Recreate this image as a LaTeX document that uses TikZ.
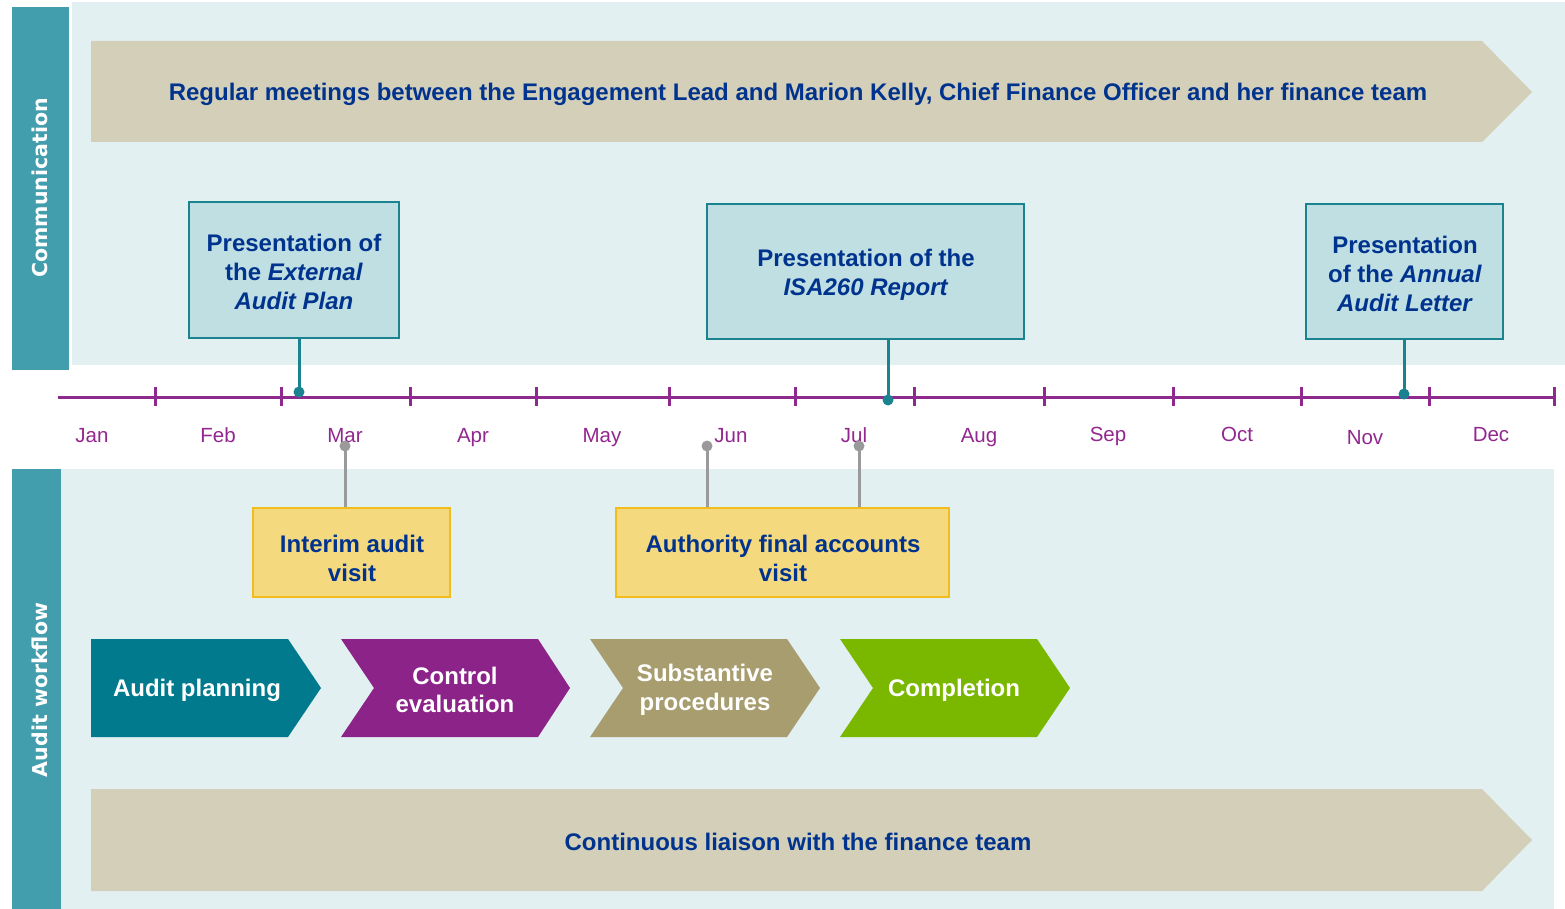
\documentclass[tikz,border=0pt]{standalone}
\usepackage{fontspec}
\setmainfont{Liberation Sans}
\newfontfamily\sidefont{DejaVu Sans}
\definecolor{panelbg}{HTML}{E2F0F2}
\definecolor{sidebar}{HTML}{429DAD}
\definecolor{tanbar}{HTML}{D4CFB8}
\definecolor{commfill}{HTML}{BFDFE3}
\definecolor{commline}{HTML}{1B8290}
\definecolor{axiscol}{HTML}{8E2A8E}
\definecolor{monthcol}{HTML}{92278F}
\definecolor{yelfill}{HTML}{F5D97E}
\definecolor{yelline}{HTML}{F2BC1A}
\definecolor{greyline}{HTML}{9A9A9A}
\definecolor{darkblue}{HTML}{00338D}
\definecolor{chteal}{HTML}{007A8C}
\definecolor{chpurple}{HTML}{8B2388}
\definecolor{chkhaki}{HTML}{A89D6E}
\definecolor{chgreen}{HTML}{7AB800}
\tikzset{
  sidelabel/.style={rotate=90, text=white, font=\sidefont\bfseries\fontsize{20.5}{25}\selectfont, inner sep=0},
  bluetext/.style={text=darkblue, font=\bfseries\fontsize{24}{28.8}\selectfont, align=center, inner sep=0},
  commbox/.style={draw=commline, line width=1.4pt, fill=commfill, inner sep=0},
  yelbox/.style={draw=yelline, line width=1.4pt, fill=yelfill, inner sep=0},
  boxtext/.style={text=darkblue, font=\bfseries\fontsize{24}{29}\selectfont, align=center, inner sep=0},
  chevtext/.style={text=white, font=\bfseries\fontsize{24}{28.5}\selectfont, align=center, inner sep=0},
  month/.style={text=monthcol, font=\fontsize{20.5}{24}\selectfont, inner sep=0, anchor=base},
  axisline/.style={draw=axiscol, line width=3pt},
  commconn/.style={draw=commline, line width=3pt},
  greyconn/.style={draw=greyline, line width=3pt},
}
\begin{document}
\begin{tikzpicture}[x=1pt,y=-1pt]
\useasboundingbox (0,0) rectangle (1565,909);
% panels
\fill[panelbg] (72,2) rectangle (1565,365);
\fill[panelbg] (61,469) rectangle (1554,909);
\fill[sidebar] (12,7) rectangle (69,370);
\fill[sidebar] (12,469) rectangle (61,909);
\node[sidelabel] (comm) at (40,188) {Communication};
\node[sidelabel] (aw) at (40,690) {Audit workflow};
% top and bottom long arrows
\fill[tanbar] (91,41) -- (1482,41) -- (1532,92) -- (1482,142) -- (91,142) -- cycle;
\node[bluetext] (meet) at (798,94) {Regular meetings between the Engagement Lead and Marion Kelly, Chief Finance Officer and her finance team};
\fill[tanbar] (91,789) -- (1482,789) -- (1532,840) -- (1482,891) -- (91,891) -- cycle;
\node[bluetext] (liaison) at (798,842) {Continuous liaison with the finance team};
% axis
\draw[axisline] (58,397) -- (1554,397);
\foreach \x in {155,281,410,536,669,795,914,1044,1173,1301,1429,1554}
  \draw[axisline] (\x,387) -- (\x,406);
\foreach \x/\m/\y in {92/Jan/442,218/Feb/442,345/Mar/442,473/Apr/442,602/May/442,731/Jun/442,854/Jul/442,979/Aug/442,1108/Sep/441,1237/Oct/441,1365/Nov/444,1491/Dec/441}
  \node[month] (m\m) at (\x,\y) {\m};
% communication boxes
\node[commbox, minimum width=210, minimum height=136] (p1) at (294,270) {};
\node[boxtext] (p1text) at (294,272) {Presentation of\\the \textit{External}\\\textit{Audit Plan}};
\node[commbox, minimum width=317, minimum height=135] (p2) at (865.5,271.5) {};
\node[boxtext] (p2text) at (866,275) {Presentation of the\\\textit{ISA260 Report}};
\node[commbox, minimum width=197, minimum height=135] (p3) at (1404.5,271.5) {};
\node[boxtext] (p3text) at (1405,273.5) {Presentation\\of the \textit{Annual}\\\textit{Audit Letter}};
\coordinate (d1) at (299,392);
\coordinate (d2) at (888,400);
\coordinate (d3) at (1404,394);
\draw[commconn] (d1 |- p1.south) -- (d1);
\draw[commconn] (d2 |- p2.south) -- (d2);
\draw[commconn] (d3 |- p3.south) -- (d3);
\foreach \d in {d1,d2,d3} \fill[commline] (\d) circle (5.5);
% audit visits
\node[yelbox, minimum width=197, minimum height=89] (interim) at (351.5,552.5) {};
\node[boxtext] (interimtext) at (352,558) {Interim audit\\visit};
\node[yelbox, minimum width=333, minimum height=89] (final) at (782.5,552.5) {};
\node[boxtext] (finaltext) at (783,558) {Authority final accounts\\visit};
\coordinate (g1) at (345,446);
\coordinate (g2) at (707,446);
\coordinate (g3) at (859,446);
\draw[greyconn] (g1) -- (g1 |- interim.north);
\draw[greyconn] (g2) -- (g2 |- final.north);
\draw[greyconn] (g3) -- (g3 |- final.north);
\foreach \g in {g1,g2,g3} \fill[greyline] (\g) circle (5.5);
% chevrons
\fill[chteal] (91,639) -- (288,639) -- (321,688) -- (288,737) -- (91,737) -- cycle;
\node[chevtext] (plan) at (197,690) {Audit planning};
\fill[chpurple] (341,639) -- (538,639) -- (570,688) -- (538,737) -- (341,737) -- (374,688) -- cycle;
\node[chevtext] (ctrl) at (455,690) {Control\\evaluation};
\fill[chkhaki] (590,639) -- (787,639) -- (820,688) -- (787,737) -- (590,737) -- (623,688) -- cycle;
\node[chevtext] (subst) at (705,690) {Substantive\\procedures};
\fill[chgreen] (840,639) -- (1037,639) -- (1070,688) -- (1037,737) -- (840,737) -- (873,688) -- cycle;
\node[chevtext] (compl) at (954,690) {Completion};
\end{tikzpicture}
\end{document}
